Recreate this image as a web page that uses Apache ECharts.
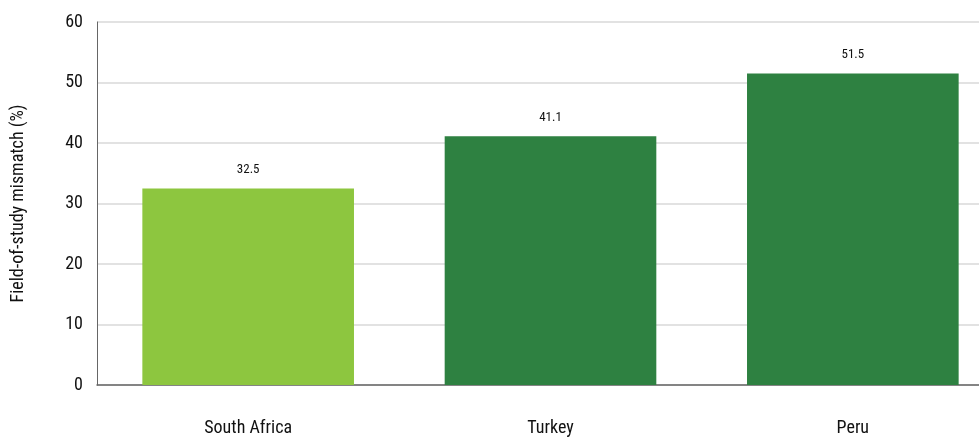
<!DOCTYPE html>
<html>
<head>
<meta charset="utf-8">
<script src="https://cdn.jsdelivr.net/npm/echarts@6/dist/echarts.min.js"></script>
<style>
  html, body { margin: 0; padding: 0; background: #fff; overflow: hidden; }
  /* the reference plot runs past the right edge of the picture */
  #chart { width: 1004px; height: 444px; }
</style>
</head>
<body>
<div id="chart"></div>
<script>
  var categories = ['South Africa', 'Turkey', 'Peru'];
  var values = [32.5, 41.1, 51.5];
  var barColors = ['#8dc63f', '#2e8141', '#2e8141'];

  var font = "'Liberation Sans Narrow', 'Roboto Condensed', 'Noto Sans', sans-serif";

  var chart = echarts.init(document.getElementById('chart'));
  chart.setOption({
    animation: false,
    textStyle: { fontFamily: font },
    grid: { left: 97, right: 0, top: 22, bottom: 59 },
    xAxis: {
      type: 'category',
      data: categories,
      axisTick: { show: false },
      axisLine: { lineStyle: { color: '#666', width: 1.5 } },
      axisLabel: { color: '#111', fontSize: 18, margin: 34, fontFamily: font }
    },
    yAxis: {
      type: 'value',
      min: 0,
      max: 60,
      interval: 10,
      name: 'Field-of-study mismatch (%)',
      nameLocation: 'middle',
      nameGap: 70,
      nameTextStyle: { color: '#111', fontSize: 18, fontFamily: font },
      axisLine: { show: true, lineStyle: { color: '#666', width: 1 } },
      axisTick: { show: false },
      axisLabel: { color: '#111', fontSize: 18, margin: 14, fontFamily: font },
      splitLine: { lineStyle: { color: '#d9d9d9', width: 1.5 } }
    },
    series: [{
      type: 'bar',
      barCategoryGap: '30%',
      data: values.map(function (v, i) {
        return { value: v, itemStyle: { color: barColors[i] } };
      }),
      label: {
        show: true,
        position: 'top',
        distance: 12,
        color: '#111',
        fontSize: 13,
        fontFamily: font
      }
    }]
  });
</script>
</body>
</html>
